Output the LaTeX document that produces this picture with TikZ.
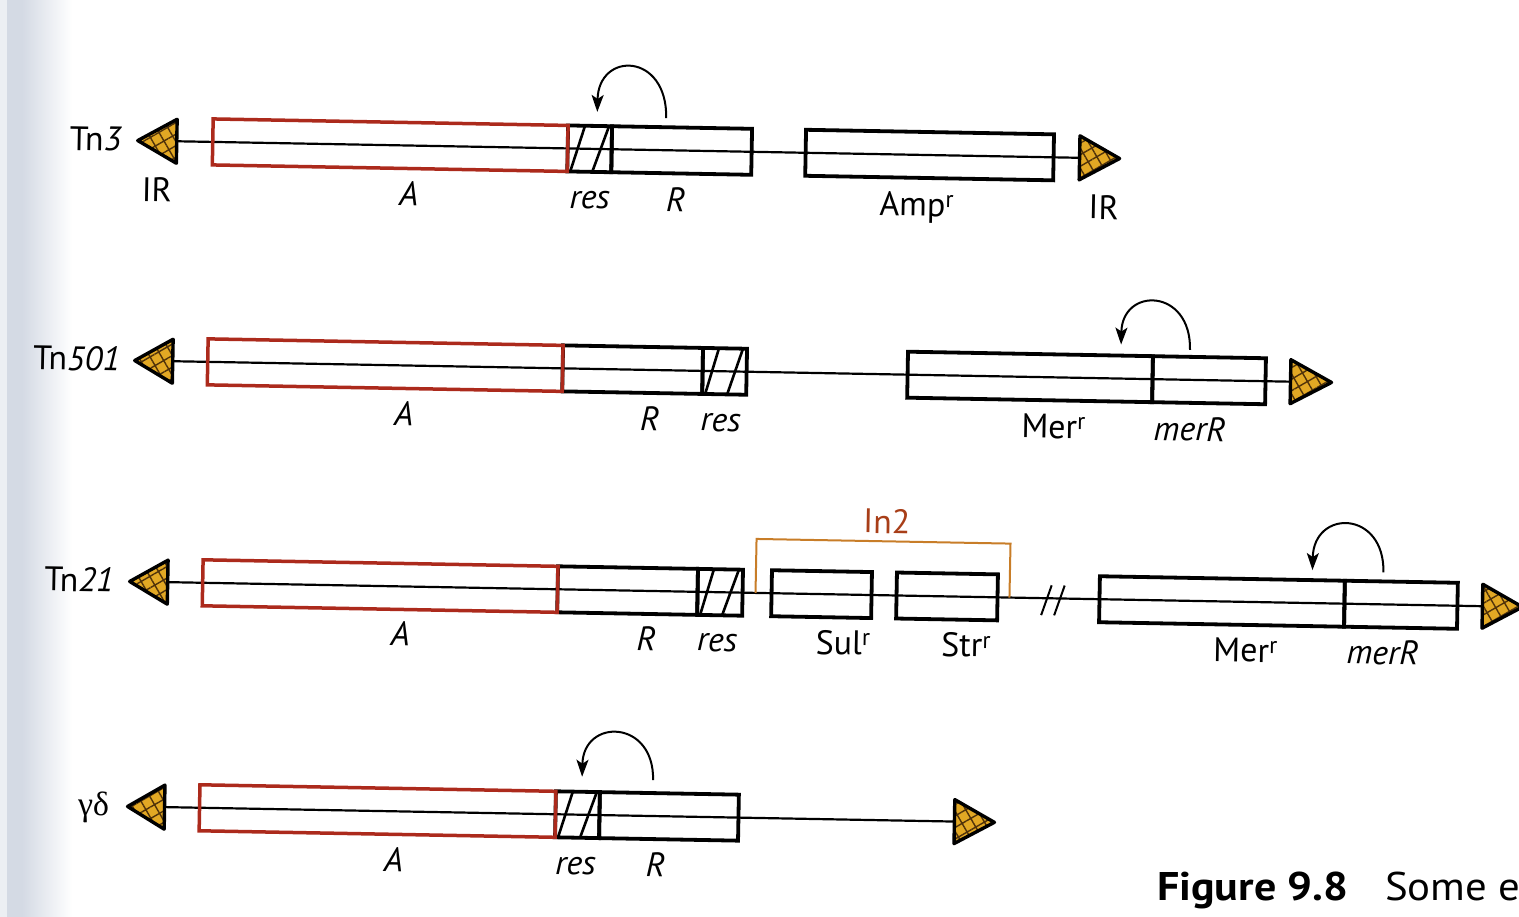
\documentclass[tikz,border=0pt]{standalone}
\usepackage{fontspec}
\usepackage{graphicx}
\setmainfont{PT Sans}
\newfontfamily\greekfont{Liberation Serif}
\usetikzlibrary{arrows.meta,patterns.meta}

\definecolor{gold}{RGB}{226,168,36}
\definecolor{seam}{RGB}{80,50,10}
\definecolor{abox}{RGB}{172,42,28}
\definecolor{intwo}{RGB}{200,125,40}
\definecolor{intwotext}{RGB}{168,62,24}
\definecolor{strip}{RGB}{212,218,228}
\definecolor{stripedge}{RGB}{236,239,243}

\tikzset{
  lbl/.style={font=\fontsize{34}{37}\selectfont, inner sep=0pt, anchor=base},
  ilbl/.style={lbl, font=\fontsize{34}{37}\selectfont\itshape},
  gene/.style={draw=black, line width=3.8pt, minimum height=46pt, inner sep=0pt, outer sep=0pt},
  agene/.style={gene, draw=abox, line width=3.5pt},
  backbone/.style={line width=2.2pt},
  hatchline/.style={line width=2.6pt},
  irtri/.style={draw=black, line width=3.4pt, line join=round, preaction={fill=gold},
    preaction={pattern={Hatch[angle=30,distance=10pt,line width=1.4pt]}, pattern color=seam}},
  loop/.style={line width=2pt, -{Stealth[length=17pt,width=12pt,inset=4pt]}},
  bracket/.style={draw=intwo, line width=2pt},
  slashmark/.style={line width=2pt},
}

\begin{document}
\begin{tikzpicture}[x=1pt,y=-1pt]
\useasboundingbox (0,0) rectangle (1519,917);
% scanned page edge
\fill[stripedge] (0,0) rectangle (7,917);
\fill[strip] (7,0) rectangle (22,917);
\shade[left color=strip, right color=white] (22,0) rectangle (72,917);

\begin{scope}[rotate around={-1.05:(760,460)}, transform shape]
% ================= Row 1 : Tn3 =================
\coordinate (L1) at (171,152);
\coordinate (R1) at (1074,152);
\draw[backbone] (L1) -- (R1);
\node[gene, minimum width=44pt]  (res1) at (584,152) {};
\node[gene, minimum width=140pt] (Rg1)  at (676,152) {};
\node[gene, minimum width=248pt] (amp1) at (924,152) {};
\node[agene, minimum width=355pt] (A1) at (384.5,152) {};
\draw[hatchline] ([xshift=3pt]res1.south west) -- ([xshift=17pt]res1.north west);
\draw[hatchline] ([xshift=25pt]res1.south west) -- ([xshift=41pt]res1.north west);
\draw[irtri] (132,152) -- (171,130) -- (171,174) -- cycle;
\draw[irtri] (1114,152) -- (1074,130) -- (1074,174) -- cycle;
\coordinate (s1) at (660,120);
\coordinate (t1) at (591,115);
\draw[loop] (s1) .. controls (660,54) and (591,54) .. (t1);
\node[lbl, anchor=base] (tn3) at (90,163) {Tn\textit{3}};
\node[lbl] (ir1a) at (152,213) {IR};
\node[ilbl] (la1) at (404,212) {A};
\node[ilbl] (lres1) at (585,212) {res};
\node[ilbl] (lr1) at (671,213) {R};
\node[lbl] (lamp) at (912,213) {Amp\textsuperscript{r}};
\node[lbl] (ir1b) at (1099,213) {IR};

% ================= Row 2 : Tn501 =================
\coordinate (L2) at (171,372);
\coordinate (R2) at (1289,372);
\draw[backbone] (L2) -- (R2);
\node[gene, minimum width=140pt] (Rg2) at (631,372) {};
\node[gene, minimum width=44pt] (res2) at (723,372) {};
\node[gene, minimum width=245pt] (mer2) at (1028.5,372) {};
\node[gene, minimum width=113pt] (merR2) at (1207.5,372) {};
\node[agene, minimum width=355pt] (A2) at (383.5,372) {};
\draw[hatchline] ([xshift=3pt]res2.south west) -- ([xshift=16pt]res2.north west);
\draw[hatchline] ([xshift=25pt]res2.south west) -- ([xshift=40pt]res2.north west);
\draw[irtri] (133,372) -- (171,350) -- (171,394) -- cycle;
\draw[irtri] (1330,372) -- (1289,350) -- (1289,394) -- cycle;
\coordinate (s2) at (1188,342);
\coordinate (t2) at (1119,338);
\draw[loop] (s2) .. controls (1188,280) and (1119,280) .. (t2);
\node[lbl] (tn501) at (75,383) {Tn\textit{501}};
\node[ilbl] (la2) at (403,432) {A};
\node[ilbl] (lr2) at (649,433) {R};
\node[ilbl] (lres2) at (720,432) {res};
\node[lbl] (lmer2) at (1053,433) {Mer\textsuperscript{r}};
\node[ilbl] (lmerR2) at (1189,433) {merR};

% ================= Row 3 : Tn21 =================
\coordinate (L3) at (170,593);
\coordinate (R3) at (1485,593);
\draw[backbone] (L3) -- (R3);
\node[gene, minimum width=140pt] (Rg3) at (630,593) {};
\node[gene, minimum width=45pt] (res3) at (722.5,593) {};
\node[gene, minimum width=100pt] (sul3) at (824,593) {};
\node[gene, minimum width=101pt] (str3) at (949.5,593) {};
\node[gene, minimum width=245pt] (mer3) at (1224.5,593) {};
\node[gene, minimum width=113pt] (merR3) at (1403.5,593) {};
\node[agene, minimum width=355pt] (A3) at (382.5,593) {};
\draw[hatchline] ([xshift=3pt]res3.south west) -- ([xshift=16pt]res3.north west);
\draw[hatchline] ([xshift=25pt]res3.south west) -- ([xshift=41pt]res3.north west);
\coordinate (b1) at (758,593);
\coordinate (b2) at (1012,593);
\draw[bracket] (b1) -- (758,539) -- (1012,539) -- (b2);
\node[lbl, text=intwotext] (in2) at (888,531) {In2};
\coordinate (k1a) at (1044,610); \coordinate (k1b) at (1054,580);
\coordinate (k2a) at (1057,610); \coordinate (k2b) at (1067,580);
\draw[slashmark] (k1a) -- (k1b);
\draw[slashmark] (k2a) -- (k2b);
\draw[irtri] (132,593) -- (170,571) -- (170,615) -- cycle;
\draw[irtri] (1525,593) -- (1485,571) -- (1485,615) -- cycle;
\coordinate (s3) at (1385.5,561);
\coordinate (t3) at (1314.5,560);
\draw[loop] (s3) .. controls (1385.5,498.5) and (1314.5,498.5) .. (t3);
\node[lbl] (tn21) at (81.5,604) {Tn\textit{21}};
\node[ilbl] (la3) at (403.5,652) {A};
\node[ilbl] (lr3) at (649.5,653) {R};
\node[ilbl] (lres3) at (720.5,652) {res};
\node[lbl] (lsul) at (846.5,653) {Sul\textsuperscript{r}};
\node[lbl] (lstr) at (969.5,653) {Str\textsuperscript{r}};
\node[lbl] (lmer3) at (1249,653) {Mer\textsuperscript{r}};
\node[ilbl] (lmerR3) at (1386,653) {merR};

% ================= Row 4 : gamma delta =================
\coordinate (L4) at (171,818);
\coordinate (R4) at (961,818);
\draw[backbone] (L4) -- (R4);
\node[gene, minimum width=44pt] (res4) at (584,818) {};
\node[gene, minimum width=139pt] (Rg4) at (675.5,818) {};
\node[agene, minimum width=356pt] (A4) at (384,818) {};
\draw[hatchline] ([xshift=3pt]res4.south west) -- ([xshift=17pt]res4.north west);
\draw[hatchline] ([xshift=25pt]res4.south west) -- ([xshift=41pt]res4.north west);
\draw[irtri] (134,818) -- (171,796) -- (171,840) -- cycle;
\draw[irtri] (1001,818) -- (961,796) -- (961,840) -- cycle;
\coordinate (s4) at (659,782);
\coordinate (t4) at (588,780);
\draw[loop] (s4) .. controls (659,721) and (588,721) .. (t4);
\node[lbl, font=\fontsize{34}{37}\selectfont\greekfont] (gd) at (100,828) {γδ};
\node[ilbl] (la4) at (401,878) {A};
\node[ilbl] (lres4) at (583,878) {res};
\node[ilbl] (lr4) at (663,879) {R};
\end{scope}

% caption fragment
\node[lbl, anchor=base west, font=\fontsize{40}{44}\selectfont\bfseries] (fig) at (1157,900) {\scalebox{1.1}[1]{Figure 9.8}};
\node[lbl, anchor=base west, font=\fontsize{40}{44}\selectfont] (some) at (1385,900) {\scalebox{1.07}[1]{Some e}};
\end{tikzpicture}
\end{document}
